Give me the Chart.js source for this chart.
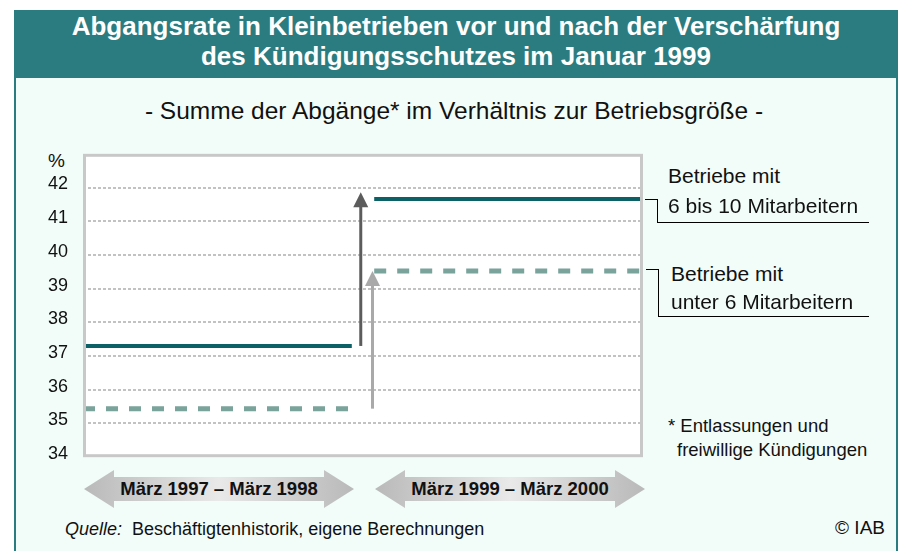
<!DOCTYPE html>
<html>
<head>
<meta charset="utf-8">
<script src="https://cdn.jsdelivr.net/npm/chart.js@4/dist/chart.umd.min.js"></script>
<style>
  body { margin: 0; width: 901px; height: 551px; overflow: hidden; background: #fff;
         font-family: "Liberation Sans", Arial, sans-serif; color: #111; position: relative; }
  .abs { position: absolute; white-space: nowrap; }
  #panel { left: 14px; top: 10px; width: 880px; height: 560px; background: #f2fdf9;
           border-left: 2px solid #2b7c80; border-right: 2px solid #2b7c80; }
  #banner { left: 14px; top: 10px; width: 884px; height: 67px; background: #2b7c80; color: #fff;
            font-weight: bold; font-size: 26px; line-height: 30px; text-align: center; padding-top: 1px; }
  #sub { left: 0; width: 908px; top: 97px; text-align: center; font-size: 24.5px; }
  #chartbox { left: 30px; top: 128px; }
  #chartbox canvas { display: block; }
  .lab { font-size: 21px; }
  .hl { height: 1px; background: #000; }
  .ell { border-left: 1px solid #000; border-bottom: 1px solid #000; }
  .period { top: 470px; width: 270px; height: 38px; line-height: 38px; text-align: center;
            font-weight: bold; font-size: 18.5px;
            background: linear-gradient(to right, #b9b9b9, #e9e9e9 50%, #b9b9b9);
            clip-path: polygon(0 50%, 30px 0, 30px 7px, calc(100% - 30px) 7px, calc(100% - 30px) 0, 100% 50%,
                               calc(100% - 30px) 100%, calc(100% - 30px) 31px, 30px 31px, 30px 100%); }
  .note { font-size: 18.5px; }
</style>
</head>
<body>
<div id="panel" class="abs"></div>
<div id="banner" class="abs">Abgangsrate in Kleinbetrieben vor und nach der Verschärfung<br>des Kündigungsschutzes im Januar 1999</div>
<div id="sub" class="abs">- Summe der Abgänge* im Verhältnis zur Betriebsgröße -</div>
<div class="abs" style="left:48px; top:150px; font-size:19px;">%</div>

<div id="chartbox" class="abs"><canvas id="chart" width="620" height="355"></canvas></div>

<div class="abs lab" style="left:668px; top:164px;">Betriebe mit</div>
<div class="abs lab" style="left:668px; top:194px;">6 bis 10 Mitarbeitern</div>
<div class="abs hl" style="left:645px; top:199px; width:12px;"></div>
<div class="abs ell" style="left:657px; top:199px; width:211px; height:23px;"></div>

<div class="abs lab" style="left:671px; top:262px;">Betriebe mit</div>
<div class="abs lab" style="left:671px; top:290px;">unter 6 Mitarbeitern</div>
<div class="abs hl" style="left:646px; top:269px; width:12px;"></div>
<div class="abs ell" style="left:658px; top:269px; width:210px; height:47px;"></div>

<div class="abs note" style="left:668px; top:415px;">* Entlassungen und</div>
<div class="abs note" style="left:677px; top:439px;">freiwillige Kündigungen</div>

<div id="p0" class="abs period" style="left:84px;"></div>
<div id="p1" class="abs period" style="left:375px;"></div>

<div class="abs note" style="left:65px; top:519px; font-size:18px;"><i>Quelle:</i>&nbsp; Beschäftigtenhistorik, eigene Berechnungen</div>
<div class="abs note" style="right:16px; top:517px; font-size:19px;">© IAB</div>

<script>
// Zeiträume und Abgangsraten (in %)
var periods     = ['März 1997 – März 1998', 'März 1999 – März 2000'];
var rate6bis10  = [37.3, 41.66];   // Betriebe mit 6 bis 10 Mitarbeitern
var rateUnter6  = [35.44, 39.52];  // Betriebe mit unter 6 Mitarbeitern
// Zeitachse 0..100, Anfang und Ende der beiden Zeiträume
var span6bis10  = [[0, 48], [52, 100]];
var spanUnter6  = [[0, 49], [52, 100]];
var arrowX      = [49.6, 51.7];
var yTicks      = [34, 35, 36, 37, 38, 39, 40, 41, 42];

document.getElementById('p0').textContent = periods[0];
document.getElementById('p1').textContent = periods[1];

function steps(rates, spans) {
	var pts = [];
	for (var i = 0; i < rates.length; i++) {
		if (i > 0) pts.push({x: (spans[i-1][1] + spans[i][0]) / 2, y: null});
		pts.push({x: spans[i][0], y: rates[i]});
		pts.push({x: spans[i][1], y: rates[i]});
	}
	return pts;
}

var plotFrame = {
	id: 'plotFrame',
	beforeDraw: function(chart) {
		var a = chart.chartArea, ctx = chart.ctx;
		ctx.save();
		ctx.fillStyle = '#ffffff';
		ctx.fillRect(a.left, a.top, a.right - a.left, a.bottom - a.top);
		ctx.restore();
	},
	afterDatasetsDraw: function(chart) {
		var ctx = chart.ctx, xs = chart.scales.x, ys = chart.scales.y;
		var arrows = [
			{x: arrowX[0], from: rate6bis10[0], to: rate6bis10[1] + 0.2, color: '#5c5c5c'},
			{x: arrowX[1], from: rateUnter6[0], to: rateUnter6[1], color: '#a9a9a9'}
		];
		arrows.forEach(function(ar) {
			var px = xs.getPixelForValue(ar.x);
			var y0 = ys.getPixelForValue(ar.from);
			var y1 = ys.getPixelForValue(ar.to);
			ctx.save();
			ctx.strokeStyle = ar.color;
			ctx.fillStyle = ar.color;
			ctx.lineWidth = 3;
			ctx.beginPath();
			ctx.moveTo(px, y0);
			ctx.lineTo(px, y1 + 12);
			ctx.stroke();
			ctx.beginPath();
			ctx.moveTo(px, y1);
			ctx.lineTo(px - 7.5, y1 + 15);
			ctx.lineTo(px + 7.5, y1 + 15);
			ctx.closePath();
			ctx.fill();
			ctx.restore();
		});
	},
	afterDraw: function(chart) {
		var a = chart.chartArea, ctx = chart.ctx;
		ctx.save();
		ctx.strokeStyle = '#c8c8c8';
		ctx.lineWidth = 3;
		ctx.strokeRect(a.left + 1.5, a.top + 1.5, a.right - a.left - 3, a.bottom - a.top - 3);
		ctx.restore();
	}
};

var ctx = document.getElementById('chart').getContext('2d');
var myChart = new Chart(ctx, {
	type: 'line',
	data: {
		datasets: [{
			label: 'Betriebe mit 6 bis 10 Mitarbeitern',
			data: steps(rate6bis10, span6bis10),
			borderColor: '#0b6165',
			borderWidth: 4,
			pointRadius: 0,
			spanGaps: false
		}, {
			label: 'Betriebe mit unter 6 Mitarbeitern',
			data: steps(rateUnter6, spanUnter6),
			borderColor: '#7aa39b',
			borderWidth: 5,
			borderDash: [12, 11],
			pointRadius: 0,
			spanGaps: false
		}]
	},
	options: {
		responsive: false,
		devicePixelRatio: 1,
		animation: false,
		layout: { padding: { left: 0, right: 7, top: 3, bottom: 1 } },
		plugins: { legend: { display: false }, tooltip: { enabled: false } },
		scales: {
			x: { type: 'linear', min: 0, max: 100, display: false },
			y: {
				min: 34,
				max: 43,
				afterFit: function(scale) { scale.width = 53; },
				afterBuildTicks: function(scale) {
					scale.ticks = yTicks.concat([43]).map(function(v) { return {value: v}; });
				},
				ticks: {
					padding: 15,
					labelOffset: -3,
					color: '#111',
					font: { family: '"Liberation Sans", Arial, sans-serif', size: 18 },
					callback: function(v) { return v === 43 ? '' : v; }
				},
				border: { display: false, dash: [3, 2] },
				grid: {
					drawTicks: false,
					lineWidth: 2,
					color: function(c) {
						var v = c.tick ? c.tick.value : null;
						return (v === 34 || v === 43) ? 'rgba(0,0,0,0)' : '#c2c2c2';
					}
				}
			}
		}
	},
	plugins: [plotFrame]
});
</script>
</body>
</html>
